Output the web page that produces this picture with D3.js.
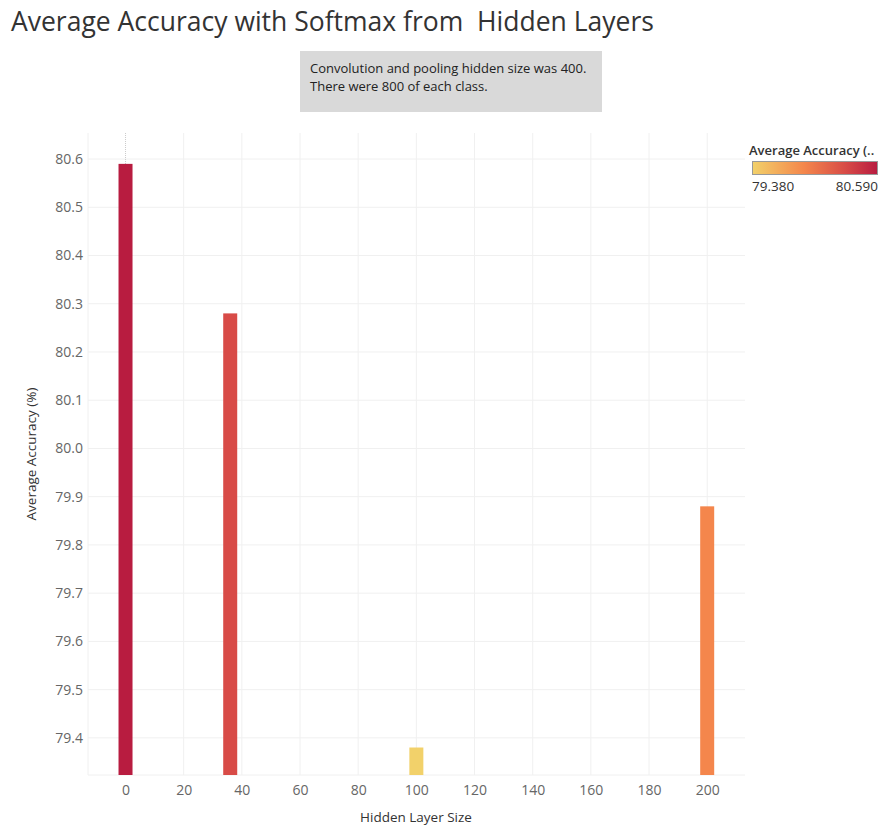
<!DOCTYPE html>
<html>
<head>
<meta charset="utf-8">
<script src="https://cdn.jsdelivr.net/npm/d3@7"></script>
<style>
  body { margin: 0; background: #fff; font-family: "Open Sans", "Noto Sans", sans-serif; }
  svg text { font-family: "Open Sans", "Noto Sans", sans-serif; white-space: pre; }
</style>
</head>
<body>
<div id="chart"></div>
<script>
// Data
const hiddenSizes = [0, 36, 100, 200];
const accuracy = [80.59, 80.28, 79.38, 79.88];
const yTicks = [79.4, 79.5, 79.6, 79.7, 79.8, 79.9, 80.0, 80.1, 80.2, 80.3, 80.4, 80.5, 80.6];
const xTicks = [0, 20, 40, 60, 80, 100, 120, 140, 160, 180, 200];
const noteLines = ['Convolution and pooling hidden size was 400.', 'There were 800 of each class.'];

const width = 890;
const height = 831;
const margin = { top: 133, right: 145, bottom: 56, left: 88 };

const svg = d3.select('#chart')
    .append('svg')
    .attr('width', width)
    .attr('height', height);

// Title (note the double space, kept as in the original)
svg.append('text')
    .attr('x', 11)
    .attr('y', 31)
    .attr('font-size', 26.5)
    .attr('fill', '#333')
    .attr('xml:space', 'preserve')
    .text('Average Accuracy with Softmax from  Hidden Layers');

// Annotation box
svg.append('rect')
    .attr('x', 300).attr('y', 51)
    .attr('width', 302).attr('height', 61)
    .attr('fill', '#d9d9d9');
svg.selectAll('.note')
    .data(noteLines)
    .enter()
    .append('text')
    .attr('class', 'note')
    .attr('x', 310)
    .attr('y', (d, i) => 73 + i * 18)
    .attr('font-size', 13)
    .attr('fill', '#222')
    .text(d => d);

// Scales
const x = d3.scaleLinear()
    .domain([-12.9, 213])
    .range([margin.left, width - margin.right]);

const y = d3.scaleLinear()
    .domain([79.323, 80.654])
    .range([height - margin.bottom, margin.top]);

const cMin = d3.min(accuracy), cMax = d3.max(accuracy);
const colorStops = ['#f2d16a', '#f4874c', '#d84c47', '#b81c40'];
const color = d3.scaleLinear()
    .domain([0, 0.41, 0.74, 1].map(t => cMin + t * (cMax - cMin)))
    .range(colorStops)
    .interpolate(d3.interpolateRgb);

const g = svg.append('g');

// Gridlines
g.append('g')
    .selectAll('line')
    .data(yTicks)
    .enter()
    .append('line')
    .attr('x1', margin.left).attr('x2', width - margin.right)
    .attr('y1', d => y(d)).attr('y2', d => y(d))
    .attr('stroke', '#f0f0f0');

g.append('g')
    .selectAll('line')
    .data(xTicks.filter(d => d !== 0))
    .enter()
    .append('line')
    .attr('x1', d => x(d)).attr('x2', d => x(d))
    .attr('y1', margin.top).attr('y2', height - margin.bottom)
    .attr('stroke', '#f0f0f0');

g.append('line')
    .attr('x1', margin.left).attr('x2', margin.left)
    .attr('y1', margin.top).attr('y2', height - margin.bottom)
    .attr('stroke', '#f0f0f0');

g.append('line')
    .attr('x1', margin.left).attr('x2', width - margin.right)
    .attr('y1', height - margin.bottom).attr('y2', height - margin.bottom)
    .attr('stroke', '#f0f0f0');

// Zero reference line
g.append('line')
    .attr('x1', x(0)).attr('x2', x(0))
    .attr('y1', margin.top).attr('y2', height - margin.bottom)
    .attr('stroke', '#ccc')
    .attr('stroke-dasharray', '1,1');

// Bars
const barW = 14;
g.selectAll('.bar')
    .data(hiddenSizes.map((s, i) => ({ size: s, acc: accuracy[i] })))
    .enter()
    .append('rect')
    .attr('class', 'bar')
    .attr('x', d => x(d.size) - barW / 2)
    .attr('width', barW)
    .attr('y', d => y(d.acc))
    .attr('height', d => y.range()[0] - y(d.acc))
    .attr('fill', d => color(d.acc));

// Y axis
const yAxis = svg.append('g')
    .attr('transform', `translate(${margin.left},0)`)
    .call(d3.axisLeft(y).tickValues(yTicks).tickFormat(d3.format('.1f')).tickSize(0).tickPadding(5));
yAxis.select('.domain').remove();
yAxis.selectAll('text').attr('font-size', 14).attr('fill', '#666')
    .style('font-family', '"Open Sans", sans-serif');

// X axis
const xAxis = svg.append('g')
    .attr('transform', `translate(0,${height - margin.bottom})`)
    .call(d3.axisBottom(x).tickValues(xTicks).tickSize(0).tickPadding(10));
xAxis.select('.domain').remove();
xAxis.selectAll('text').attr('font-size', 14).attr('fill', '#666')
    .style('font-family', '"Open Sans", sans-serif');

// Axis titles
svg.append('text')
    .attr('transform', `translate(36,${(margin.top + height - margin.bottom) / 2}) rotate(-90)`)
    .attr('text-anchor', 'middle')
    .attr('font-size', 13.5)
    .attr('font-weight', 500)
    .attr('fill', '#333')
    .text('Average Accuracy (%)');

svg.append('text')
    .attr('x', 416)
    .attr('y', 822)
    .attr('text-anchor', 'middle')
    .attr('font-size', 13.5)
    .attr('font-weight', 500)
    .attr('fill', '#333')
    .text('Hidden Layer Size');

// Legend
const defs = svg.append('defs');
const grad = defs.append('linearGradient').attr('id', 'legendGrad');
color.domain().forEach((v, i) => {
    grad.append('stop')
        .attr('offset', (v - cMin) / (cMax - cMin))
        .attr('stop-color', colorStops[i]);
});

svg.append('text')
    .attr('x', 749)
    .attr('y', 155)
    .attr('font-size', 13)
    .attr('font-weight', 600)
    .attr('fill', '#333')
    .text('Average Accuracy (..');

svg.append('rect')
    .attr('x', 752.5).attr('y', 161.5)
    .attr('width', 125).attr('height', 13)
    .attr('fill', 'url(#legendGrad)')
    .attr('stroke', '#999');

svg.append('text')
    .attr('x', 752).attr('y', 191)
    .attr('font-size', 13.5).attr('fill', '#333')
    .text(d3.format('.3f')(cMin));

svg.append('text')
    .attr('x', 878).attr('y', 191)
    .attr('text-anchor', 'end')
    .attr('font-size', 13.5).attr('fill', '#333')
    .text(d3.format('.3f')(cMax));
</script>
</body>
</html>
